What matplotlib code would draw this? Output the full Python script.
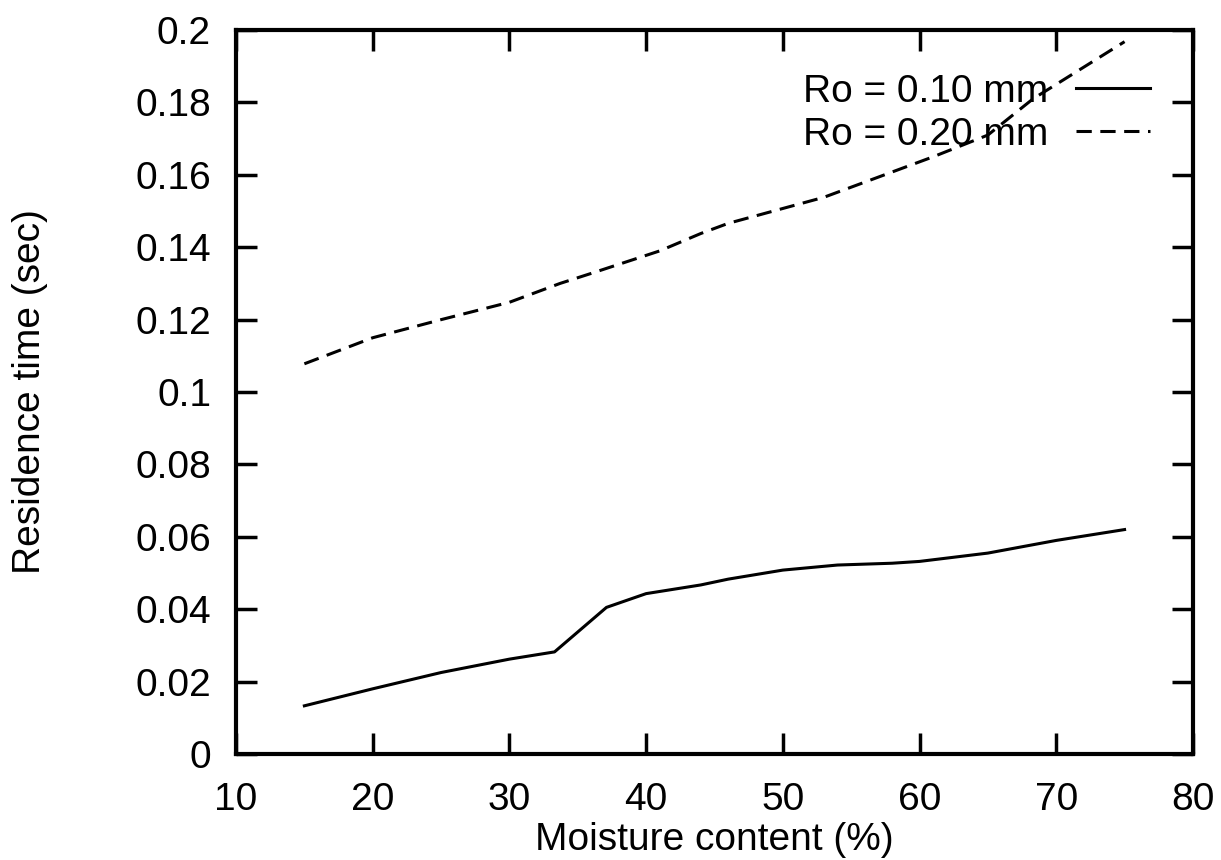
import matplotlib
matplotlib.use("Agg")
import matplotlib.pyplot as plt

plt.rcParams['font.family'] = ['Liberation Sans', 'DejaVu Sans']

# Ro = 0.10 mm
x1 = [15, 20, 25, 30, 33.3, 37.1, 40, 44, 46, 50, 54, 58, 60, 65, 70, 75]
y1 = [0.0133, 0.0180, 0.0225, 0.0262, 0.0282, 0.0405, 0.0443, 0.0467, 0.0483, 0.0508, 0.0522, 0.0527, 0.0532, 0.0555, 0.0590, 0.0620]

# Ro = 0.20 mm
x2 = [15, 20, 25, 30, 33.7, 36, 41, 44, 46, 53, 61, 65, 68.3, 75]
y2 = [0.1078, 0.1150, 0.1200, 0.1248, 0.1300, 0.1328, 0.1390, 0.1438, 0.1466, 0.1538, 0.1650, 0.1710, 0.1810, 0.1968]

xticks = [10, 20, 30, 40, 50, 60, 70, 80]
yticks = [0, 0.02, 0.04, 0.06, 0.08, 0.1, 0.12, 0.14, 0.16, 0.18, 0.2]
ylabels = ["0", "0.02", "0.04", "0.06", "0.08", "0.1", "0.12", "0.14", "0.16", "0.18", "0.2"]

fig = plt.figure(figsize=(12.21, 8.6), dpi=100)
ax = fig.add_axes([0.1933, 0.1233, 0.7837, 0.8417])

ax.plot(x1, y1, 'k-', lw=2.2, label="Ro = 0.10 mm")
ax.plot(x2, y2, 'k--', lw=2.2, dashes=(5, 2.8), label="Ro = 0.20 mm")

ax.set_xlim(10, 80)
ax.set_ylim(0, 0.2)
ax.set_xticks(xticks)
ax.set_yticks(yticks)
ax.set_yticklabels(ylabels)
ax.tick_params(direction='in', length=15, width=2.5, labelsize=28, top=True, right=True)
ax.tick_params(axis='x', pad=20)
ax.tick_params(axis='y', pad=18)
for s in ax.spines.values():
    s.set_linewidth(3)

ax.set_xlabel("Moisture content (%)", fontsize=28)
ax.set_ylabel("Residence time (sec)", fontsize=28)
ax.xaxis.set_label_coords(0.5, -0.094)
ax.yaxis.set_label_coords(-0.196, 0.5)

ax.legend(loc='upper right', bbox_to_anchor=(0.955, 0.94), frameon=False, fontsize=28,
          markerfirst=False, handlelength=1.9, handletextpad=0.7, labelspacing=0.18,
          borderpad=0, borderaxespad=0)

fig.savefig("out.png", dpi=100)
